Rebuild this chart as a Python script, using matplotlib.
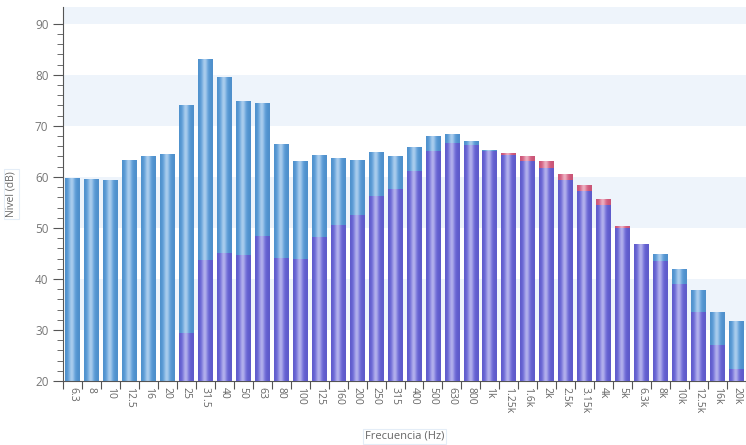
import numpy as np
import matplotlib
matplotlib.use('Agg')
import matplotlib.pyplot as plt
from matplotlib.colors import to_rgb

nan = np.nan

# bandas de tercio de octava
frecuencias = ['6.3', '8', '10', '12.5', '16', '20', '25', '31.5', '40', '50',
               '63', '80', '100', '125', '160', '200', '250', '315', '400', '500',
               '630', '800', '1k', '1.25k', '1.6k', '2k', '2.5k', '3.15k', '4k', '5k',
               '6.3k', '8k', '10k', '12.5k', '16k', '20k']

# nivel total (azul)
nivel_azul = [59.7, 59.4, 59.3, 63.2, 63.9, 64.3, 73.9, 83.1, 79.4, 74.8,
              74.3, 66.4, 63.0, 64.2, 63.7, 63.3, 64.8, 64.0, 65.8, 68.0,
              68.4, 66.9, 65.2, 64.1, 63.0, 61.7, 59.3, 57.1, 54.3, 49.8,
              46.7, 44.7, 41.8, 37.7, 33.5, 31.6]

# nivel ponderado (morado)
nivel_morado = [nan, nan, nan, nan, nan, nan, 29.3, 43.7, 45.0, 44.6,
                48.3, 44.0, 43.9, 48.2, 50.4, 52.5, 56.1, 57.6, 61.0, 65.0,
                66.6, 66.1, 65.0, 64.1, 63.0, 61.7, 59.3, 57.1, 54.3, 49.8,
                46.7, 43.4, 39.0, 33.4, 26.9, 22.3]

# exceso (rojo)
nivel_rojo = [nan] * 23 + [64.6, 64.0, 63.0, 60.5, 58.3, 55.5, 50.3] + [nan] * 6

YMIN, YMAX = 20, 93.3
ANCHO = 0.78

plt.rcParams['font.family'] = ['Open Sans', 'DejaVu Sans']

fig = plt.figure(figsize=(7.46, 4.45), dpi=100)
ax = fig.add_axes([0.0845, 0.1438, 0.9155, 0.8405])

# bandas de fondo
for lo in (30, 50, 70, 90):
    ax.axhspan(lo, lo + 10, color='#eef4fb', zorder=0, lw=0)


def degradado(color):
    base = np.array(to_rgb(color))
    t = np.linspace(0, 1, 40)
    brillo = 0.5 * np.exp(-((t - 0.45) / 0.2) ** 2)
    borde = 0.92 + 0.08 * np.exp(-((t - 0.45) / 0.35) ** 2)
    img = base[None, :] * borde[:, None]
    img = img + (1 - img) * brillo[:, None]
    return np.clip(img[None, :, :], 0, 1)


def barras(valores, color, z):
    img = degradado(color)
    for i, v in enumerate(valores):
        if np.isnan(v):
            continue
        rect = ax.bar(i, v - YMIN, bottom=YMIN, width=ANCHO, color=color,
                      zorder=z, lw=0)[0]
        x0 = rect.get_x()
        ax.imshow(img, extent=[x0, x0 + rect.get_width(), YMIN, v],
                  aspect='auto', zorder=z + 0.1, interpolation='bilinear')


barras(nivel_azul, '#559bdb', 2)
barras(nivel_rojo, '#d95c80', 3)
barras(nivel_morado, '#6662da', 4)

ax.set_xlim(-0.5, len(frecuencias) - 0.5)
ax.set_ylim(YMIN, YMAX)

for s in ('top', 'right'):
    ax.spines[s].set_visible(False)
for s in ('left', 'bottom'):
    ax.spines[s].set_color('#555555')

ax.set_xticks(np.arange(-0.5, len(frecuencias), 1))
ax.set_xticklabels([])
ax.set_xticks(range(len(frecuencias)), minor=True)
ax.set_xticklabels(frecuencias, minor=True, rotation=-90, fontsize=7.5,
                   color='#666666')
ax.tick_params(axis='x', which='major', length=6, color='#555555')
ax.tick_params(axis='x', which='minor', length=0, pad=4)

ax.set_yticks(range(20, 91, 10))
ax.set_yticks(range(20, 91, 2), minor=True)
ax.tick_params(axis='y', which='major', length=7, color='#555555',
               labelsize=8.5, labelcolor='#777777')
ax.tick_params(axis='y', which='minor', length=4, color='#555555')

ax.set_xlabel('Frecuencia (Hz)', fontsize=8, color='#666666', labelpad=13,
              bbox=dict(boxstyle='square,pad=0.2', fc='none', ec='#e4edf7', lw=0.8))
ax.set_ylabel('Nivel (dB)', fontsize=7.5, color='#666666', labelpad=13,
              bbox=dict(boxstyle='square,pad=0.2', fc='none', ec='#e4edf7', lw=0.8))

fig.savefig('out.png', dpi=100)
